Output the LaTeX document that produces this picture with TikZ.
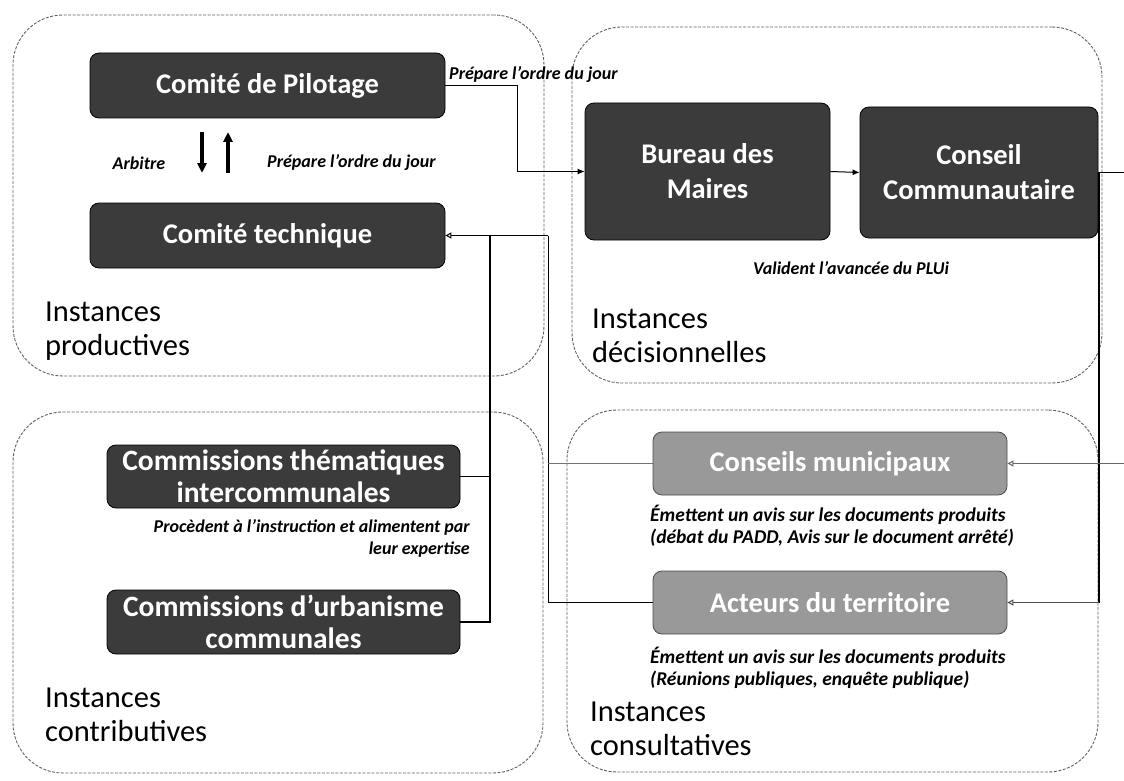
\documentclass[tikz,border=0pt]{standalone}
\usepackage{fontspec}
\setmainfont{Carlito}
\usetikzlibrary{arrows.meta,calc}
\begin{document}
\begin{tikzpicture}[x=1pt,y=-1pt,
  zone/.style={draw=black!62, dash pattern=on 3pt off 1.5pt, line width=0.9pt, rounded corners=50pt, inner sep=0pt},
  darkbox/.style={draw=black, fill=black!77, rounded corners=9pt, text=white, font=\bfseries\fontsize{28.5}{32}\selectfont, align=center, inner sep=0pt, line width=0.8pt},
  graybox/.style={draw=black!70, fill=black!40, rounded corners=9pt, text=white, font=\bfseries\fontsize{28.5}{32}\selectfont, align=center, inner sep=0pt, line width=0.8pt},
  ztitle/.style={font=\fontsize{30.5}{34}\selectfont, align=left, anchor=base west, inner sep=0pt},
  lab/.style={font=\bfseries\itshape\fontsize{18}{22}\selectfont, inner sep=0pt},
  conn/.style={line width=1pt, draw=black},
  heavy/.style={line width=2pt, draw=black},
  solidtip/.style={-{Latex[length=7pt,width=6pt]}},
  opentip/.style={-{Triangle[open,length=6pt,width=6pt]}},
  blockarrow/.style={line width=3.5pt, -{Triangle[length=10pt,width=9pt]}},
]
\useasboundingbox (0,0) rectangle (1124,781);
% containers
\node[zone, minimum width=531pt, minimum height=361pt] (ztl) at (278.5,195.5) {};
\node[zone, minimum width=530pt, minimum height=356pt] (ztr) at (837,205) {};
\node[zone, minimum width=530pt, minimum height=361pt] (zbl) at (278,592.5) {};
\node[zone, minimum width=531pt, minimum height=362pt] (zbr) at (832.5,591) {};
% titles (anchor = baseline of the last line)
\node[ztitle] (ttl) at (45,355) {Instances\\productives};
\node[ztitle] (ttr) at (592,362) {Instances\\décisionnelles};
\node[ztitle] (tbl) at (45,741) {Instances\\contributives};
\node[ztitle] (tbr) at (590,755) {Instances\\consultatives};
% boxes
\node[darkbox, minimum width=355pt, minimum height=65pt] (cdp) at (267.5,85.5) {Comité de Pilotage};
\node[darkbox, minimum width=355pt, minimum height=65pt] (ct) at (267.5,235.5) {Comité technique};
\node[darkbox, minimum width=245pt, minimum height=137pt, font=\bfseries\fontsize{28.5}{35}\selectfont] (bm) at (707.5,171.5) {Bureau des\\Maires};
\node[darkbox, minimum width=238pt, minimum height=131pt, font=\bfseries\fontsize{28.5}{35}\selectfont] (cc) at (979,172.5) {Conseil\\Communautaire};
\node[darkbox, minimum width=353pt, minimum height=63pt, font=\bfseries\fontsize{29.5}{32}\selectfont] (cti) at (283.5,476.5) {Commissions thématiques\\intercommunales};
\node[darkbox, minimum width=353pt, minimum height=64pt, font=\bfseries\fontsize{29.5}{32}\selectfont] (cuc) at (283.5,622) {Commissions d’urbanisme\\communales};
\node[graybox, minimum width=354pt, minimum height=63pt] (cm) at (830,463.5) {Conseils municipaux};
\node[graybox, minimum width=354pt, minimum height=63pt] (at) at (830,602.5) {Acteurs du territoire};
% labels
\node[lab, anchor=west] (l1) at (449,75) {Prépare l’ordre du jour};
\node[lab] (l2) at (139,163) {Arbitre};
\node[lab, anchor=west] (l3) at (267,163) {Prépare l’ordre du jour};
\node[lab] (l4) at (851,268) {Valident l’avancée du PLUi};
\node[lab, align=right, anchor=north east] (l5) at (470,519) {Procèdent à l’instruction et alimentent par\\leur expertise};
\node[lab, align=left, anchor=north west, font=\bfseries\itshape\fontsize{19.5}{22}\selectfont] (l6) at (650,505) {Émettent un avis sur les documents produits\\(débat du PADD, Avis sur le document arrêté)};
\node[lab, align=left, anchor=north west, font=\bfseries\itshape\fontsize{19.5}{22}\selectfont] (l7) at (650,647) {Émettent un avis sur les documents produits\\(Réunions publiques, enquête publique)};
% block arrows between the two comités
\coordinate (dA) at (202,132);
\coordinate (dB) at (202,173);
\coordinate (uA) at (228,173);
\coordinate (uB) at (228,132);
\draw[blockarrow] (dA) -- (dB);
\draw[blockarrow] (uA) -- (uB);
% connectors
\draw[conn, solidtip] (cdp.east) -- ++(72,0) |- (bm.west);
\draw[conn, solidtip] (bm.east) -- (cc.west);
\coordinate (edgeA) at (1124,172.5);
\coordinate (edgeB) at (1124,463.5);
\coordinate (rv) at (1099,172.5);
\draw[conn] (cc.east) -- (edgeA);
\draw[heavy] (rv) -- (rv |- at.east);
\draw[conn, draw=black!60, opentip] (edgeB) -- (cm.east);
\draw[conn, draw=black!70, opentip] (rv |- at.east) -- (at.east);
\coordinate (lv) at ($(ct.east)+(103,0)$);
\coordinate (mv) at ($(ct.east)+(45,0)$);
\draw[conn, opentip] (lv) -- (ct.east);
\draw[conn] (lv) |- (at.west);
\draw[conn, draw=black!55] (lv |- cm.west) -- (cm.west);
\draw[heavy] (mv) |- (cuc.east);
\draw[conn] (mv |- cti.east) -- (cti.east);
\end{tikzpicture}
\end{document}
